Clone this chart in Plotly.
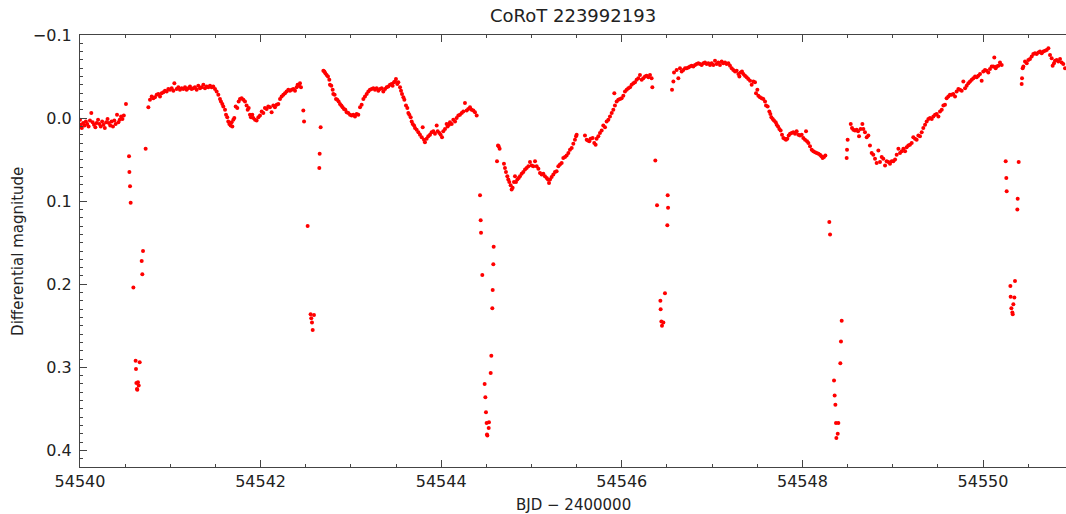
import plotly.graph_objects as go

# ---- Light-curve data (BJD, differential magnitude) ----
# Out-of-eclipse segment before the first eclipse
t_seg_a = [54540.000, 54540.010, 54540.020, 54540.035, 54540.050, 54540.065, 54540.080, 54540.095,
           54540.110, 54540.125, 54540.140, 54540.155, 54540.170, 54540.185, 54540.200, 54540.215,
           54540.230, 54540.245, 54540.260, 54540.275, 54540.290, 54540.305, 54540.320, 54540.335,
           54540.350, 54540.365, 54540.380, 54540.395, 54540.410, 54540.425, 54540.440, 54540.455,
           54540.470, 54540.485, 54540.509]
m_seg_a = [0.002, 0.008, 0.012, 0.006, 0.009, 0.004, 0.007, 0.010,
           0.003, -0.006, 0.005, 0.008, 0.011, 0.006, 0.002, 0.007,
           0.010, 0.004, 0.008, 0.012, 0.005, 0.001, 0.006, 0.009,
           0.004, 0.010, 0.003, 0.007, -0.004, 0.005, 0.002, -0.002,
           0.001, -0.003, -0.017]

# Eclipse 1
t_ecl1 = [54540.543, 54540.547, 54540.554, 54540.561, 54540.591, 54540.616, 54540.620, 54540.624,
          54540.631, 54540.635, 54540.642, 54540.650, 54540.661, 54540.683, 54540.690, 54540.698,
          54540.727]
m_ecl1 = [0.046, 0.065, 0.082, 0.102, 0.204, 0.292, 0.302, 0.319,
          0.326, 0.327, 0.318, 0.322, 0.294, 0.172, 0.188, 0.160,
          0.037]

# Segment between eclipse 1 and 2
t_seg_b = [54540.757, 54540.775, 54540.794, 54540.812, 54540.830, 54540.849, 54540.867, 54540.886,
           54540.904, 54540.923, 54540.941, 54540.960, 54540.978, 54540.997, 54541.015, 54541.034,
           54541.045, 54541.070, 54541.089, 54541.107, 54541.126, 54541.144, 54541.163, 54541.181,
           54541.200, 54541.218, 54541.236, 54541.255, 54541.273, 54541.292, 54541.310, 54541.329,
           54541.347, 54541.366, 54541.384, 54541.403, 54541.421, 54541.440, 54541.458, 54541.476,
           54541.495, 54541.513, 54541.532, 54541.550, 54541.561, 54541.576, 54541.587, 54541.606,
           54541.617, 54541.631, 54541.642, 54541.654, 54541.668, 54541.679, 54541.687, 54541.698,
           54541.709, 54541.724, 54541.742, 54541.757, 54541.772, 54541.790, 54541.809, 54541.827,
           54541.845, 54541.857, 54541.868, 54541.882, 54541.893, 54541.908, 54541.919, 54541.938,
           54541.956, 54541.975, 54541.993, 54542.012, 54542.030, 54542.048, 54542.067, 54542.085,
           54542.104, 54542.122, 54542.141, 54542.159, 54542.178, 54542.196, 54542.215, 54542.233,
           54542.252, 54542.270, 54542.288, 54542.307, 54542.325, 54542.344, 54542.362, 54542.381,
           54542.399, 54542.410, 54542.425, 54542.436, 54542.447]
m_seg_b = [-0.013, -0.022, -0.026, -0.024, -0.025, -0.028, -0.029, -0.026,
           -0.030, -0.031, -0.033, -0.032, -0.035, -0.034, -0.036, -0.033,
           -0.042, -0.035, -0.037, -0.034, -0.036, -0.035, -0.037, -0.034,
           -0.036, -0.038, -0.035, -0.036, -0.037, -0.034, -0.039, -0.036,
           -0.037, -0.040, -0.036, -0.038, -0.037, -0.039, -0.037, -0.038,
           -0.035, -0.032, -0.028, -0.023, -0.020, -0.017, -0.014, -0.010,
           -0.004, -0.001, 0.004, 0.007, 0.009, 0.005, 0.010, 0.002,
           0.000, -0.014, -0.012, -0.020, -0.023, -0.024, -0.022, -0.020,
           -0.015, -0.010, -0.012, -0.004, -0.001, -0.004, 0.000, 0.002,
           0.003, -0.001, -0.003, -0.008, -0.006, -0.012, -0.011, -0.014,
           -0.013, -0.007, -0.015, -0.013, -0.016, -0.017, -0.023, -0.026,
           -0.028, -0.030, -0.032, -0.034, -0.033, -0.034, -0.035, -0.033,
           -0.037, -0.040, -0.039, -0.042, -0.037]

# Eclipse 2
t_ecl2 = [54542.473, 54542.481, 54542.521, 54542.554, 54542.561, 54542.569, 54542.577, 54542.591,
          54542.650, 54542.654, 54542.665]
m_ecl2 = [-0.009, 0.004, 0.130, 0.236, 0.241, 0.246, 0.255, 0.237,
          0.060, 0.043, 0.011]

# Segment between eclipse 2 and 3
t_seg_c = [54542.695, 54542.706, 54542.717, 54542.731, 54542.746, 54542.761, 54542.768, 54542.783,
           54542.798, 54542.805, 54542.820, 54542.835, 54542.849, 54542.864, 54542.879, 54542.894,
           54542.908, 54542.923, 54542.938, 54542.953, 54542.971, 54542.990, 54543.008, 54543.027,
           54543.045, 54543.064, 54543.082, 54543.101, 54543.119, 54543.138, 54543.156, 54543.175,
           54543.193, 54543.211, 54543.230, 54543.248, 54543.267, 54543.285, 54543.304, 54543.322,
           54543.341, 54543.359, 54543.378, 54543.396, 54543.414, 54543.433, 54543.451, 54543.462,
           54543.477, 54543.488, 54543.499, 54543.514, 54543.525, 54543.544, 54543.555, 54543.566,
           54543.581, 54543.592, 54543.610, 54543.625, 54543.636, 54543.647, 54543.662, 54543.673,
           54543.684, 54543.699, 54543.710, 54543.728, 54543.747, 54543.765, 54543.784, 54543.795,
           54543.809, 54543.820, 54543.839, 54543.857, 54543.876, 54543.894, 54543.913, 54543.931,
           54543.950, 54543.961, 54543.979, 54543.994, 54544.009, 54544.023, 54544.042, 54544.060,
           54544.071, 54544.086, 54544.097, 54544.116, 54544.134, 54544.153, 54544.171, 54544.190,
           54544.208, 54544.227, 54544.245, 54544.263, 54544.282, 54544.300, 54544.319, 54544.337,
           54544.356, 54544.374, 54544.393]
m_seg_c = [-0.057, -0.056, -0.054, -0.052, -0.050, -0.046, -0.040, -0.039,
           -0.034, -0.029, -0.028, -0.023, -0.022, -0.020, -0.017, -0.015,
           -0.013, -0.011, -0.010, -0.007, -0.006, -0.004, -0.003, -0.004,
           -0.002, -0.005, -0.004, -0.013, -0.016, -0.023, -0.026, -0.029,
           -0.032, -0.034, -0.035, -0.036, -0.034, -0.036, -0.033, -0.035,
           -0.036, -0.032, -0.035, -0.037, -0.038, -0.040, -0.041, -0.039,
           -0.043, -0.044, -0.047, -0.041, -0.043, -0.037, -0.033, -0.029,
           -0.025, -0.022, -0.015, -0.012, -0.006, -0.004, -0.001, 0.004,
           0.007, 0.009, 0.012, 0.014, 0.017, 0.020, 0.023, 0.011,
           0.026, 0.029, 0.025, 0.022, 0.020, 0.017, 0.016, 0.019,
           0.009, 0.016, 0.018, 0.020, 0.023, 0.016, 0.013, 0.007,
           0.010, 0.008, 0.005, 0.007, 0.002, 0.004, 0.000, -0.003,
           -0.004, -0.006, -0.008, -0.018, -0.009, -0.011, -0.013, -0.010,
           -0.009, -0.007, -0.003]

# Eclipse 3
t_ecl3 = [54544.430, 54544.437, 54544.441, 54544.455, 54544.481, 54544.489, 54544.496, 54544.503,
          54544.507, 54544.511, 54544.526, 54544.529, 54544.548, 54544.555, 54544.566, 54544.570,
          54544.577, 54544.581]
m_ecl3 = [0.093, 0.123, 0.138, 0.189, 0.320, 0.336, 0.354, 0.367,
          0.381, 0.382, 0.373, 0.366, 0.307, 0.286, 0.229, 0.207,
          0.176, 0.155]

# Segment between eclipse 3 and 4
t_seg_d = [54544.618, 54544.629, 54544.636, 54544.647, 54544.695, 54544.706, 54544.717, 54544.732,
           54544.743, 54544.754, 54544.769, 54544.780, 54544.791, 54544.806, 54544.817, 54544.828,
           54544.843, 54544.858, 54544.872, 54544.891, 54544.909, 54544.928, 54544.946, 54544.965,
           54544.983, 54545.002, 54545.020, 54545.039, 54545.057, 54545.076, 54545.094, 54545.112,
           54545.131, 54545.149, 54545.168, 54545.182, 54545.194, 54545.205, 54545.223, 54545.242,
           54545.260, 54545.278, 54545.297, 54545.315, 54545.334, 54545.352, 54545.371, 54545.389,
           54545.408, 54545.426, 54545.445, 54545.463, 54545.481, 54545.493, 54545.500,
           54545.592, 54545.611, 54545.625, 54545.640, 54545.655, 54545.677, 54545.695, 54545.710,
           54545.721, 54545.740, 54545.758, 54545.777, 54545.795, 54545.814, 54545.832, 54545.851,
           54545.869, 54545.888, 54545.906, 54545.917, 54545.924, 54545.943, 54545.961, 54545.980,
           54545.998, 54546.017, 54546.035, 54546.054, 54546.072, 54546.091, 54546.109, 54546.128,
           54546.146, 54546.164, 54546.183, 54546.201, 54546.220, 54546.238, 54546.257, 54546.275,
           54546.294, 54546.312, 54546.330, 54546.338]
m_seg_d = [0.052, 0.033, 0.034, 0.037, 0.055, 0.060, 0.065, 0.070,
           0.074, 0.077, 0.081, 0.086, 0.084, 0.077, 0.070, 0.077,
           0.074, 0.072, 0.070, 0.067, 0.065, 0.062, 0.060, 0.058,
           0.053, 0.057, 0.058, 0.052, 0.058, 0.061, 0.066, 0.068,
           0.067, 0.070, 0.072, 0.074, 0.078, 0.074, 0.071, 0.068,
           0.065, 0.064, 0.058, 0.056, 0.054, 0.048, 0.047, 0.045,
           0.042, 0.038, 0.036, 0.031, 0.026, 0.022, 0.020,
           0.021, 0.026, 0.027, 0.028, 0.025, 0.024, 0.030, 0.032,
           0.025, 0.022, 0.018, 0.015, 0.009, 0.011, 0.004, 0.002,
           -0.002, -0.006, -0.010, -0.030, -0.015, -0.020, -0.022, -0.023,
           -0.024, -0.027, -0.032, -0.034, -0.036, -0.037, -0.040, -0.042,
           -0.043, -0.046, -0.048, -0.052, -0.046, -0.048, -0.050, -0.051,
           -0.049, -0.052, -0.048, -0.037]

# Eclipse 4
t_ecl4 = [54546.371, 54546.390, 54546.427, 54546.430, 54546.438, 54546.445, 54546.460, 54546.478,
          54546.504, 54546.508, 54546.512]
m_ecl4 = [0.051, 0.105, 0.220, 0.230, 0.245, 0.250, 0.246, 0.211,
          0.129, 0.093, 0.108]

# Segment between eclipse 4 and 5
t_seg_e = [54546.556, 54546.571, 54546.578, 54546.607, 54546.626, 54546.644, 54546.663, 54546.681,
           54546.700, 54546.718, 54546.737, 54546.755, 54546.774, 54546.792, 54546.811, 54546.829,
           54546.848, 54546.866, 54546.884, 54546.903, 54546.921, 54546.940, 54546.958, 54546.977,
           54546.995, 54547.014, 54547.032, 54547.051, 54547.069, 54547.087, 54547.106, 54547.124,
           54547.143, 54547.161, 54547.180, 54547.198, 54547.217, 54547.235, 54547.254, 54547.272,
           54547.291, 54547.302, 54547.316, 54547.331, 54547.346, 54547.364, 54547.383, 54547.401,
           54547.420, 54547.438, 54547.457, 54547.475, 54547.486, 54547.501, 54547.512, 54547.530,
           54547.549, 54547.567, 54547.586, 54547.597, 54547.615, 54547.634, 54547.645, 54547.656,
           54547.671, 54547.685, 54547.704, 54547.715, 54547.730, 54547.745, 54547.759, 54547.774,
           54547.789, 54547.804, 54547.818, 54547.833, 54547.848, 54547.863, 54547.881, 54547.899,
           54547.918, 54547.936, 54547.955, 54547.973, 54547.992, 54548.010, 54548.029, 54548.040,
           54548.051, 54548.066, 54548.084, 54548.103, 54548.121, 54548.140, 54548.158, 54548.177,
           54548.195, 54548.210, 54548.224, 54548.239, 54548.254]
m_seg_e = [-0.034, -0.044, -0.055, -0.058, -0.048, -0.060, -0.056, -0.058,
           -0.060, -0.060, -0.061, -0.062, -0.063, -0.062, -0.064, -0.065,
           -0.066, -0.065, -0.064, -0.066, -0.067, -0.065, -0.066, -0.064,
           -0.066, -0.064, -0.069, -0.065, -0.067, -0.064, -0.068, -0.066,
           -0.067, -0.065, -0.066, -0.063, -0.060, -0.058, -0.056, -0.057,
           -0.053, -0.050, -0.055, -0.056, -0.053, -0.051, -0.049, -0.047,
           -0.045, -0.040, -0.044, -0.043, -0.030, -0.034, -0.027, -0.025,
           -0.024, -0.023, -0.020, -0.015, -0.014, -0.008, -0.005, -0.001,
           0.001, 0.003, 0.005, 0.008, 0.010, 0.013, 0.015, 0.020,
           0.024, 0.025, 0.026, 0.025, 0.021, 0.019, 0.018, 0.017,
           0.019, 0.016, 0.020, 0.021, 0.020, 0.024, 0.026, 0.016,
           0.028, 0.030, 0.034, 0.038, 0.040, 0.041, 0.042, 0.043,
           0.044, 0.046, 0.048, 0.047, 0.045]

# Eclipse 5
t_ecl5 = [54548.298, 54548.306, 54548.350, 54548.357, 54548.365, 54548.372, 54548.376, 54548.391,
          54548.398, 54548.420, 54548.427, 54548.435]
m_ecl5 = [0.125, 0.140, 0.316, 0.334, 0.345, 0.367, 0.385, 0.380,
          0.367, 0.295, 0.269, 0.244]

# Segment between eclipse 5 and 6
t_seg_f = [54548.490, 54548.494, 54548.501, 54548.535, 54548.549, 54548.564, 54548.582, 54548.601,
           54548.616, 54548.627, 54548.645, 54548.664, 54548.675, 54548.693, 54548.712, 54548.730,
           54548.748, 54548.767, 54548.785, 54548.804, 54548.822, 54548.841, 54548.859, 54548.878,
           54548.896, 54548.915, 54548.933, 54548.952, 54548.970, 54548.989, 54549.007, 54549.026,
           54549.044, 54549.063, 54549.081, 54549.100, 54549.118, 54549.137, 54549.154, 54549.173,
           54549.191, 54549.210, 54549.228, 54549.247, 54549.265, 54549.284, 54549.302, 54549.321,
           54549.339, 54549.358, 54549.376, 54549.395, 54549.413, 54549.432, 54549.450, 54549.469,
           54549.487, 54549.506, 54549.524, 54549.543, 54549.561, 54549.579, 54549.597, 54549.616,
           54549.634, 54549.653, 54549.671, 54549.690, 54549.708, 54549.727, 54549.745, 54549.764,
           54549.782, 54549.801, 54549.819, 54549.838, 54549.856, 54549.875, 54549.893, 54549.912,
           54549.930, 54549.948, 54549.967, 54549.985, 54550.003, 54550.022, 54550.040, 54550.059,
           54550.077, 54550.096, 54550.114, 54550.125, 54550.140, 54550.151, 54550.170, 54550.188,
           54550.207]
m_seg_f = [0.048, 0.038, 0.026, 0.007, 0.012, 0.014, 0.015, 0.014,
           0.016, 0.022, 0.013, 0.007, 0.013, 0.017, 0.023, 0.021,
           0.033, 0.042, 0.044, 0.049, 0.054, 0.039, 0.053, 0.047,
           0.049, 0.057, 0.052, 0.053, 0.055, 0.052, 0.052, 0.050,
           0.044, 0.037, 0.042, 0.040, 0.037, 0.040, 0.035, 0.033,
           0.032, 0.030, 0.023, 0.025, 0.026, 0.021, 0.022, 0.017,
           0.012, 0.008, 0.004, 0.001, 0.000, 0.001, -0.002, -0.004,
           -0.005, -0.002, -0.008, -0.010, -0.015, -0.016, -0.024, -0.026,
           -0.028, -0.028, -0.029, -0.026, -0.032, -0.035, -0.034, -0.033,
           -0.044, -0.036, -0.039, -0.042, -0.044, -0.046, -0.048, -0.050,
           -0.049, -0.051, -0.053, -0.045, -0.056, -0.058, -0.057, -0.055,
           -0.059, -0.062, -0.062, -0.073, -0.060, -0.062, -0.063, -0.067,
           -0.064]

# Eclipse 6
t_ecl6 = [54550.251, 54550.258, 54550.262, 54550.303, 54550.306, 54550.314, 54550.325, 54550.329,
          54550.336, 54550.347, 54550.354, 54550.380, 54550.384, 54550.395]
m_ecl6 = [0.052, 0.072, 0.088, 0.202, 0.215, 0.229, 0.234, 0.236,
          0.224, 0.216, 0.196, 0.110, 0.097, 0.053]

# Final segment after eclipse 6
t_seg_g = [54550.428, 54550.432, 54550.439, 54550.447, 54550.465, 54550.484, 54550.502, 54550.520,
           54550.539, 54550.557, 54550.576, 54550.594, 54550.613, 54550.631, 54550.650, 54550.668,
           54550.687, 54550.705, 54550.724, 54550.742, 54550.760, 54550.771, 54550.786, 54550.797,
           54550.816, 54550.834, 54550.853, 54550.871, 54550.889, 54550.908]
m_seg_g = [-0.041, -0.048, -0.060, -0.062, -0.068, -0.066, -0.070, -0.071,
           -0.074, -0.077, -0.078, -0.077, -0.079, -0.080, -0.078, -0.080,
           -0.081, -0.082, -0.084, -0.076, -0.072, -0.063, -0.066, -0.069,
           -0.070, -0.068, -0.071, -0.067, -0.065, -0.060]

bjd = (t_seg_a + t_ecl1 + t_seg_b + t_ecl2 + t_seg_c + t_ecl3 + t_seg_d + t_ecl4
       + t_seg_e + t_ecl5 + t_seg_f + t_ecl6 + t_seg_g)
dmag = (m_seg_a + m_ecl1 + m_seg_b + m_ecl2 + m_seg_c + m_ecl3 + m_seg_d + m_ecl4
        + m_seg_e + m_ecl5 + m_seg_f + m_ecl6 + m_seg_g)

x_ticks = [54540, 54542, 54544, 54546, 54548, 54550]
y_ticks = [-0.1, 0.0, 0.1, 0.2, 0.3, 0.4]

FONT = "DejaVu Sans"
AX = "#444444"
TXT = "#222222"

fig = go.Figure(go.Scatter(
    x=bjd, y=dmag, mode="markers",
    marker=dict(color="#ff0000", size=4, line=dict(width=0)),
    hoverinfo="x+y",
))

fig.update_layout(
    width=1066, height=514,
    margin=dict(l=80, r=0, t=35, b=47),
    paper_bgcolor="white", plot_bgcolor="white",
    showlegend=False,
    font=dict(family=FONT, color=TXT, size=16),
    xaxis=dict(
        range=[54540, 54550.919],
        tickmode="array", tickvals=x_ticks, ticktext=[str(v) for v in x_ticks],
        ticks="inside", ticklen=7, tickwidth=1, tickcolor=AX,
        showline=True, linecolor=AX, linewidth=1.2, mirror="ticks",
        showgrid=False, zeroline=False,
        minor=dict(dtick=0.5, tick0=54540, ticks="inside", ticklen=3, tickcolor=AX, showgrid=False),
        tickfont=dict(family=FONT, size=16, color=TXT),
    ),
    yaxis=dict(
        range=[0.42, -0.1],
        tickmode="array", tickvals=y_ticks, ticktext=["\u22120.1", "0.0", "0.1", "0.2", "0.3", "0.4"],
        ticks="inside", ticklen=7, tickwidth=1, tickcolor=AX,
        showline=True, linecolor=AX, linewidth=1.2, mirror=False,
        showgrid=False, zeroline=False,
        minor=dict(dtick=0.01, tick0=0, ticks="inside", ticklen=3, tickcolor=AX, showgrid=False),
        tickfont=dict(family=FONT, size=16, color=TXT),
        ticklabelstandoff=4,
    ),
    annotations=[
        dict(text="CoRoT 223992193", xref="paper", yref="paper", x=0.5, y=1.045,
             xanchor="center", yanchor="middle", showarrow=False,
             font=dict(family=FONT, size=18, color=TXT)),
        dict(text="BJD \u2212 2400000", xref="paper", yref="paper", x=0.5, y=-0.088,
             xanchor="center", yanchor="middle", showarrow=False,
             font=dict(family=FONT, size=15, color=TXT)),
        dict(text="Differential magnitude", xref="paper", yref="paper", x=-0.063, y=0.5,
             xanchor="center", yanchor="middle", showarrow=False, textangle=-90,
             font=dict(family=FONT, size=15, color=TXT)),
    ],
)

fig.write_html(
    "out.html",
    config={"displayModeBar": False},
    post_script="document.body.style.margin='0';document.body.style.overflow='hidden';",
)
